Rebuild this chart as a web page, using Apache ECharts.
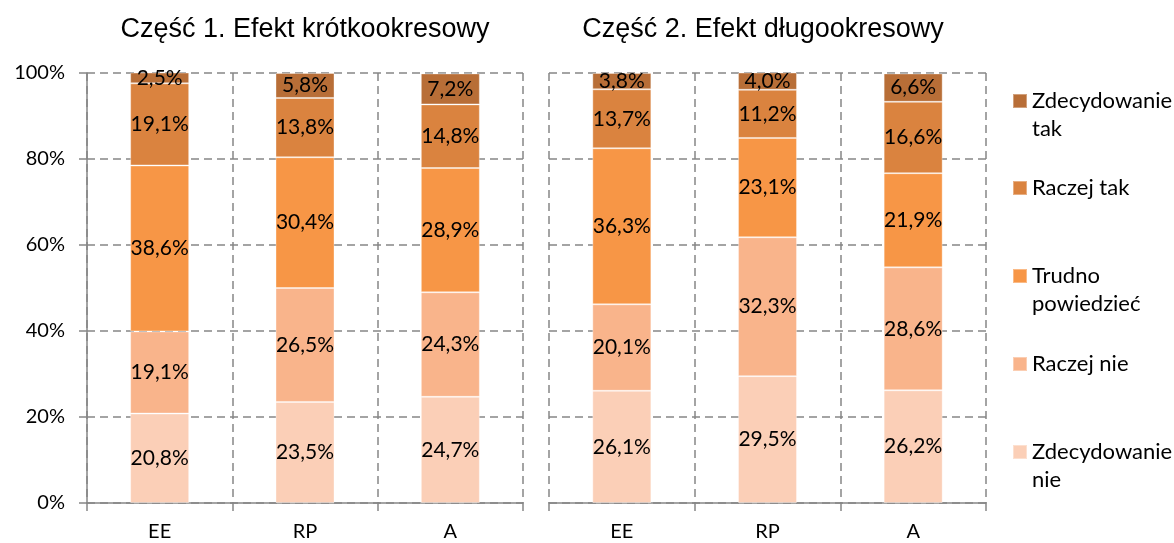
<!DOCTYPE html>
<html>
<head>
<meta charset="utf-8">
<script src="https://cdn.jsdelivr.net/npm/echarts@6/dist/echarts.min.js"></script>
<style>
  html, body { margin: 0; padding: 0; background: #fff; }
  #chart { width: 1174px; height: 543px; }
</style>
</head>
<body>
<div id="chart"></div>
<script>
// kategorie i nazwy serii
const categories = ['EE', 'RP', 'A'];
const seriesNames = ['Zdecydowanie\nnie', 'Raczej nie', 'Trudno\npowiedzieć', 'Raczej tak', 'Zdecydowanie\ntak'];
const titles = ['Część 1. Efekt krótkookresowy', 'Część 2. Efekt długookresowy'];
const yTicks = [0, 20, 40, 60, 80, 100];

// Część 1 - efekt krótkookresowy (%)
const p1ZdecNie = [20.8, 23.5, 24.7];
const p1RaczejNie = [19.1, 26.5, 24.3];
const p1Trudno = [38.6, 30.4, 28.9];
const p1RaczejTak = [19.1, 13.8, 14.8];
const p1ZdecTak = [2.5, 5.8, 7.2];

// Część 2 - efekt długookresowy (%)
const p2ZdecNie = [26.1, 29.5, 26.2];
const p2RaczejNie = [20.1, 32.3, 28.6];
const p2Trudno = [36.3, 23.1, 21.9];
const p2RaczejTak = [13.7, 11.2, 16.6];
const p2ZdecTak = [3.8, 4.0, 6.6];

const part1 = [p1ZdecNie, p1RaczejNie, p1Trudno, p1RaczejTak, p1ZdecTak];
const part2 = [p2ZdecNie, p2RaczejNie, p2Trudno, p2RaczejTak, p2ZdecTak];

const colors = ['#FBCFB7', '#F9B48B', '#F79646', '#DA833F', '#B86E37'];
const FONT = 'Lato';
const GRID_COLOR = '#868686';

const chart = echarts.init(document.getElementById('chart'));

const grids = [
  { left: 87, top: 73, width: 436, height: 430 },
  { left: 549, top: 73, width: 437, height: 430 }
];
const titleCenters = [305, 763];

const xAxes = grids.map(function (g, i) {
  return {
    type: 'category',
    gridIndex: i,
    data: categories,
    axisLine: { show: true, lineStyle: { color: GRID_COLOR, width: 1.5 } },
    axisTick: { show: true, length: 8, lineStyle: { color: GRID_COLOR, width: 1.5 } },
    axisLabel: { color: '#000', fontSize: 20, fontFamily: FONT, margin: 19 },
    splitLine: { show: true, lineStyle: { color: GRID_COLOR, width: 1.5, type: [8, 5] } }
  };
});

const yAxes = grids.map(function (g, i) {
  return {
    type: 'value',
    gridIndex: i,
    min: 0,
    max: 100,
    interval: 20,
    axisLine: { show: i === 0, lineStyle: { color: GRID_COLOR, width: 1.5 } },
    axisTick: { show: i === 0, length: 8, lineStyle: { color: GRID_COLOR, width: 1.5 } },
    axisLabel: {
      show: i === 0,
      color: '#000',
      fontSize: 20,
      fontFamily: FONT,
      margin: 22,
      formatter: function (v) { return yTicks.indexOf(v) >= 0 ? v + '%' : ''; }
    },
    splitLine: { show: true, lineStyle: { color: GRID_COLOR, width: 1.5, type: [8, 5] } }
  };
});

function makeSeries(part, gridIdx) {
  return part.map(function (values, k) {
    return {
      name: seriesNames[k],
      type: 'bar',
      stack: 'part' + gridIdx,
      xAxisIndex: gridIdx,
      yAxisIndex: gridIdx,
      data: values,
      barWidth: 59,
      itemStyle: { color: colors[k], borderColor: 'rgba(255,255,255,0.35)', borderWidth: 1 },
      label: {
        show: true,
        position: 'inside',
        color: '#000',
        fontSize: 21,
        fontFamily: FONT,
        formatter: function (p) { return p.value.toFixed(1).replace('.', ',') + '%'; }
      }
    };
  });
}

// legenda: od góry "Zdecydowanie tak" do dołu "Zdecydowanie nie"
// kwadrat wyrównany do pierwszej linii tekstu (pusta linia na początku)
const legendCenters = [101, 188, 276, 364, 452];
const legends = seriesNames.slice().reverse().map(function (name, i) {
  const twoLine = name.indexOf('\n') >= 0;
  return {
    orient: 'vertical',
    left: 1012,
    top: legendCenters[i] - (twoLine ? 42 : 14),
    padding: 0,
    itemWidth: 14,
    itemHeight: 14,
    icon: 'rect',
    selectedMode: false,
    data: [name],
    formatter: function (n) { return n.indexOf('\n') >= 0 ? ' \n' + n : n; },
    textStyle: { color: '#000', fontSize: 22, fontFamily: FONT, lineHeight: 28 }
  };
});

const option = {
  animation: false,
  title: titles.map(function (t, i) {
    return {
      text: t,
      left: titleCenters[i],
      textAlign: 'center',
      top: 16,
      padding: 0,
      textStyle: { color: '#000', fontSize: 27, fontWeight: 'normal', fontFamily: 'Liberation Sans' }
    };
  }),
  legend: legends,
  grid: grids,
  xAxis: xAxes,
  yAxis: yAxes,
  series: makeSeries(part1, 0).concat(makeSeries(part2, 1))
};

chart.setOption(option);
</script>
</body>
</html>
